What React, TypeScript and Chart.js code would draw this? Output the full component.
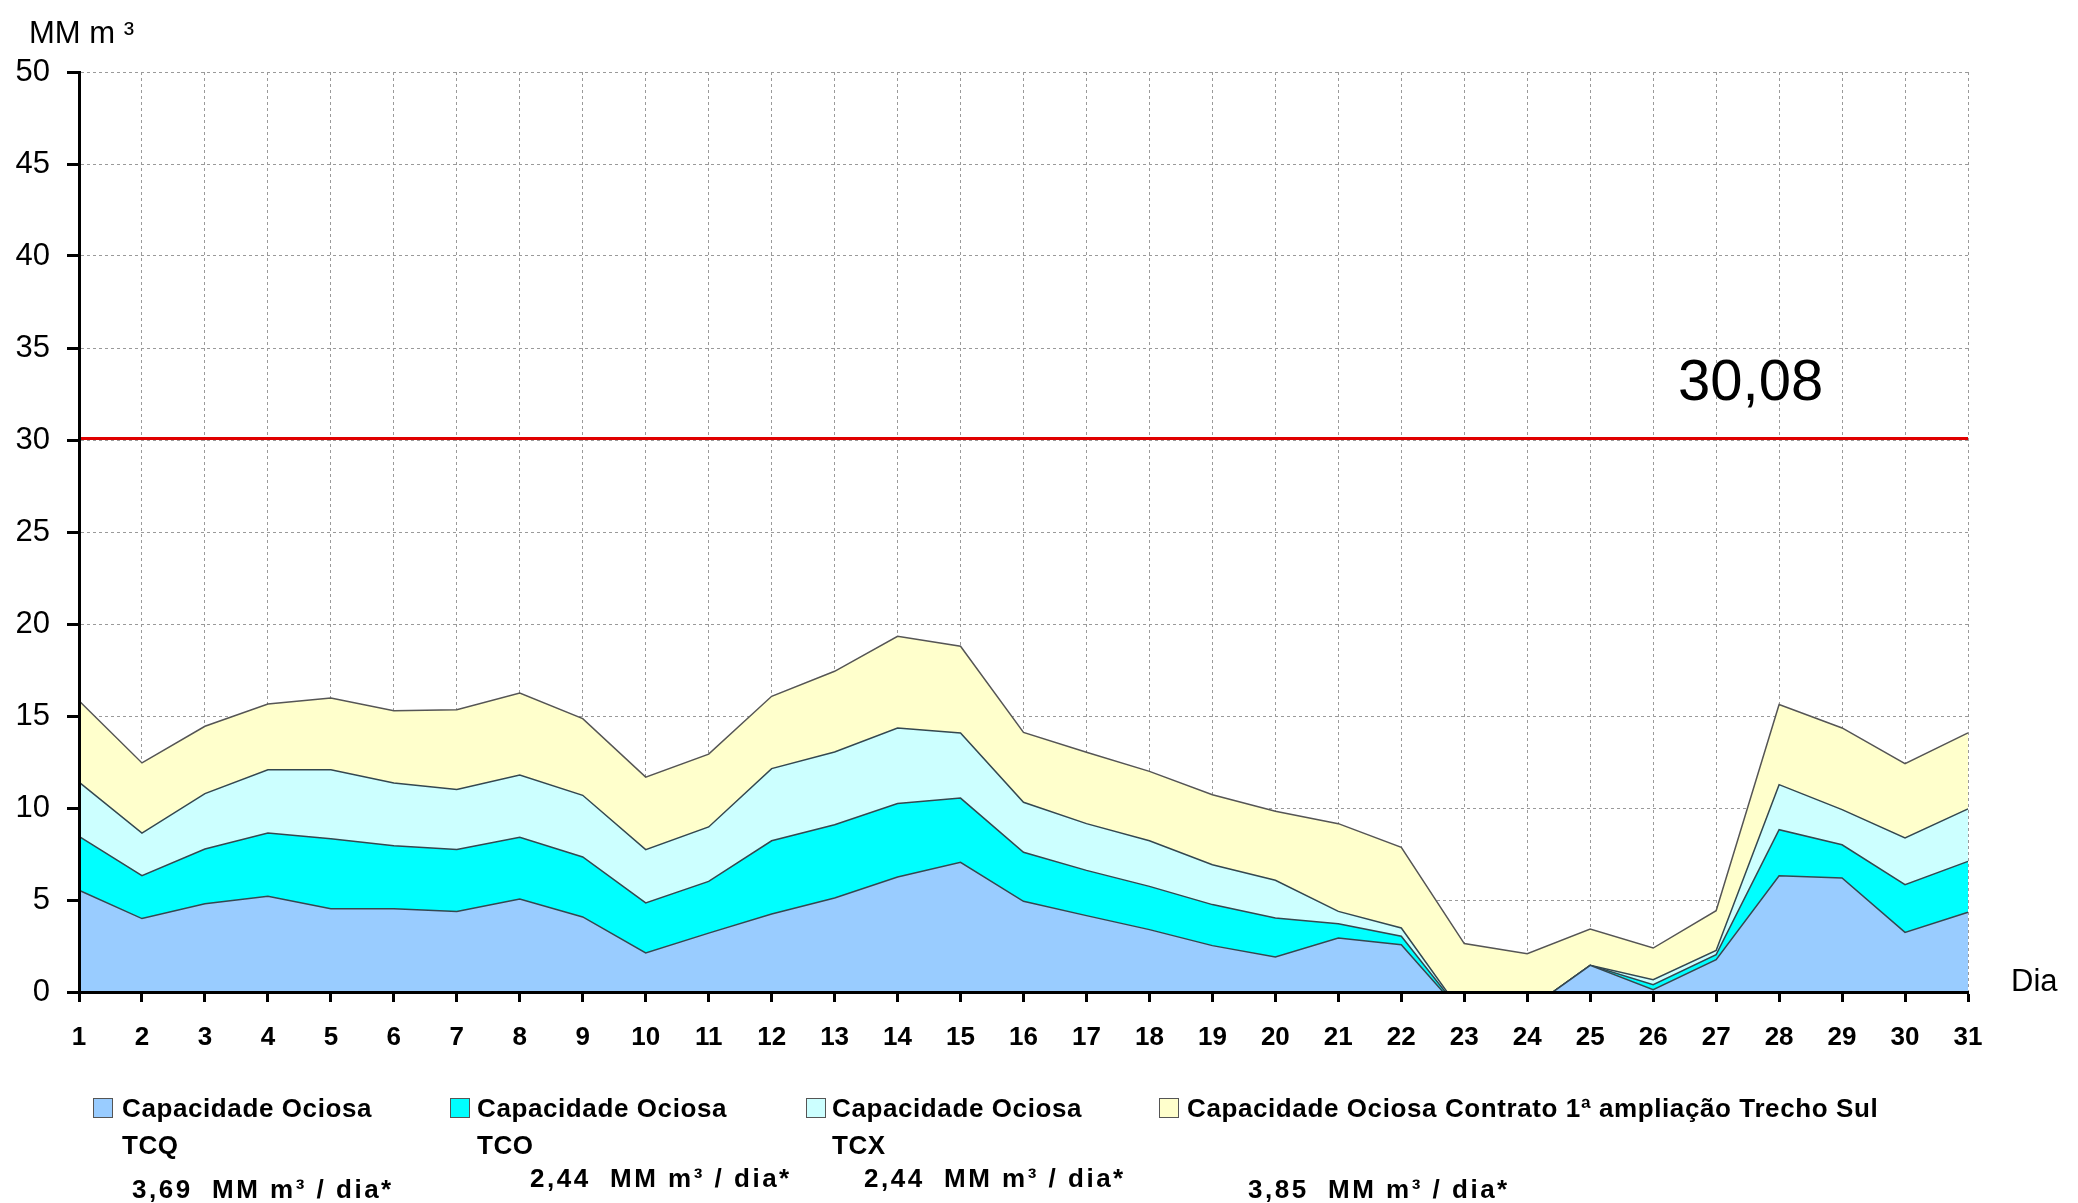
import React, { useEffect, useRef } from "react";
import { Chart, registerables } from "chart.js";

Chart.register(...registerables);

// ---- data -------------------------------------------------------------
const DAYS = [
  "1", "2", "3", "4", "5", "6", "7", "8", "9", "10",
  "11", "12", "13", "14", "15", "16", "17", "18", "19", "20",
  "21", "22", "23", "24", "25", "26", "27", "28", "29", "30", "31",
];

// Capacidade Ociosa TCQ
const TCQ = [
  5.53, 3.99, 4.8, 5.2, 4.53, 4.53, 4.38, 5.05, 4.08, 2.12,
  3.2, 4.24, 5.11, 6.25, 7.05, 4.93, 4.15, 3.39, 2.52, 1.9,
  2.93, 2.57, -1.3, -1.0, 1.45, 0.13, 1.76, 6.32, 6.2, 3.24, 4.33,
];
// Capacidade Ociosa TCO
const TCO = [
  2.93, 2.33, 2.97, 3.44, 3.8, 3.42, 3.36, 3.36, 3.26, 2.72,
  2.81, 3.98, 3.98, 3.99, 3.49, 2.66, 2.46, 2.35, 2.23, 2.12,
  0.78, 0.46, 0, 0, 0, 0.27, 0.27, 2.5, 1.8, 2.59, 2.77,
];
// Capacidade Ociosa TCX
const TCX = [
  2.95, 2.32, 3.01, 3.44, 3.75, 3.41, 3.26, 3.38, 3.35, 2.9,
  2.96, 3.92, 3.95, 4.11, 3.54, 2.72, 2.54, 2.48, 2.17, 2.05,
  0.67, 0.45, 0, 0, 0, 0.27, 0.23, 2.45, 1.91, 2.54, 2.85,
];
// Capacidade Ociosa Contrato 1ª ampliação Trecho Sul
const SUL = [
  4.42, 3.81, 3.66, 3.57, 3.9, 3.93, 4.34, 4.46, 4.17, 3.94,
  3.96, 3.93, 4.39, 4.98, 4.71, 3.8, 3.88, 3.77, 3.8, 3.75,
  4.77, 4.38, 2.63, 2.08, 1.97, 1.72, 2.16, 4.35, 4.44, 4.04, 4.13,
];

const LIMIT = 30.08;
const LIMIT_LABEL = "30,08";

const Y_MIN = 0;
const Y_MAX = 50;
const Y_STEP = 5;

const LEGEND_LINE1 = [
  "Capacidade Ociosa",
  "Capacidade Ociosa",
  "Capacidade Ociosa",
  "Capacidade Ociosa Contrato 1ª ampliação Trecho Sul",
];
const LEGEND_LINE2 = ["TCQ", "TCO", "TCX", ""];
const LEGEND_VALUES = ["3,69", "2,44", "2,44", "3,85"];
const VALUE_UNIT = "  MM m³ / dia*";

// ---- styles ------------------------------------------------------------
const COLORS = ["#99CCFF", "#00FFFF", "#CCFFFF", "#FFFFCC"];
const EDGE = "#34474f";

const legendPos = [
  { box: 93, text: 122, val: 132, valY: 1189 },
  { box: 450, text: 477, val: 530, valY: 1178 },
  { box: 806, text: 832, val: 864, valY: 1178 },
  { box: 1159, text: 1187, val: 1248, valY: 1189 },
];

const LFONT = "bold 26px 'Liberation Sans', Arial, sans-serif";

function Txt(props: { x: number; cy: number; size: number; font: string; ls?: number; children: React.ReactNode }) {
  return (
    <div
      style={{
        position: "absolute",
        left: props.x,
        top: props.cy - props.size / 2,
        font: props.font,
        fontSize: props.size,
        lineHeight: props.size + "px",
        letterSpacing: props.ls ? props.ls + "px" : undefined,
        whiteSpace: "pre",
        color: "#000",
      }}
    >
      {props.children}
    </div>
  );
}

export default function App() {
  const ref = useRef<HTMLCanvasElement>(null);

  useEffect(() => {
    const common = { pointRadius: 0, tension: 0, borderWidth: 1.5, borderColor: EDGE, stack: "cap" };
    const chart = new Chart(ref.current!, {
      type: "line",
      data: {
        labels: DAYS,
        datasets: [
          { ...common, label: "TCQ", data: TCQ, backgroundColor: COLORS[0], fill: "origin" },
          { ...common, label: "TCO", data: TCO, backgroundColor: COLORS[1], fill: "-1" },
          { ...common, label: "TCX", data: TCX, backgroundColor: COLORS[2], fill: "-1" },
          { ...common, label: "SUL", data: SUL, backgroundColor: COLORS[3], fill: "-1", borderColor: "#555" },
          {
            label: "limite",
            data: [
              { x: DAYS[0], y: LIMIT },
              { x: DAYS[DAYS.length - 1], y: LIMIT },
            ],
            borderColor: "#E00000",
            borderWidth: 3,
            fill: false,
            pointRadius: 0,
            stack: "limit",
          },
        ] as any,
      },
      options: {
        animation: false,
        responsive: false,
        devicePixelRatio: 1,
        layout: { padding: { top: 72, right: 110, bottom: 151, left: 0 } },
        plugins: {
          legend: { display: false },
          tooltip: { enabled: false },
        },
        scales: {
          x: {
            type: "category",
            offset: false,
            grid: {
              color: "#9a9a9a",
              lineWidth: 1,
              tickColor: "#000",
              tickWidth: 3,
              tickLength: 10,
              tickBorderDash: [],
            },
            border: { color: "#000", width: 3, dash: [3, 3], z: 1 },
            ticks: {
              autoSkip: false,
              maxRotation: 0,
              color: "#000",
              padding: 20,
              font: { family: "'Liberation Sans', Arial, sans-serif", size: 26, weight: "bold" },
            },
            afterFit: (s: any) => {
              s.height = 60;
            },
          },
          y: {
            stacked: true,
            min: Y_MIN,
            max: Y_MAX,
            grid: {
              color: "#9a9a9a",
              lineWidth: 1,
              tickColor: "#000",
              tickWidth: 3,
              tickLength: 12,
              tickBorderDash: [],
            },
            border: { color: "#000", width: 3, dash: [3, 3], z: 1 },
            ticks: {
              stepSize: Y_STEP,
              color: "#000",
              padding: 17,
              font: { family: "'Liberation Sans', Arial, sans-serif", size: 31 },
            },
            afterFit: (s: any) => {
              s.width = 79;
            },
          },
        },
      } as any,
    });
    return () => chart.destroy();
  }, []);

  return (
    <div style={{ position: "fixed", left: 0, top: 0, width: 2078, height: 1203, background: "#fff", overflow: "hidden" }}>
      <canvas ref={ref} width={2078} height={1203} style={{ position: "absolute", left: 0, top: 0, width: 2078, height: 1203 }} />
      <Txt x={29} cy={32} size={31} font="31px 'Liberation Sans', Arial, sans-serif">MM m ³</Txt>
      <Txt x={1678} cy={380} size={58} font="58px 'Liberation Sans', Arial, sans-serif">{LIMIT_LABEL}</Txt>
      <Txt x={2011} cy={980} size={31} font="31px 'Liberation Sans', Arial, sans-serif">Dia</Txt>
      {LEGEND_LINE1.map((t, i) => (
        <React.Fragment key={i}>
          <div
            style={{
              position: "absolute",
              left: legendPos[i].box,
              top: 1098,
              width: 18,
              height: 18,
              background: COLORS[i],
              border: "1.5px solid #555",
            }}
          />
          <Txt x={legendPos[i].text} cy={1108} size={26} ls={0.6} font={LFONT}>{t}</Txt>
          {LEGEND_LINE2[i] ? (
            <Txt x={legendPos[i].text} cy={1145} size={26} ls={0.6} font={LFONT}>{LEGEND_LINE2[i]}</Txt>
          ) : null}
          <Txt x={legendPos[i].val} cy={legendPos[i].valY} size={26} ls={2.5} font={LFONT}>{LEGEND_VALUES[i] + VALUE_UNIT}</Txt>
        </React.Fragment>
      ))}
    </div>
  );
}
